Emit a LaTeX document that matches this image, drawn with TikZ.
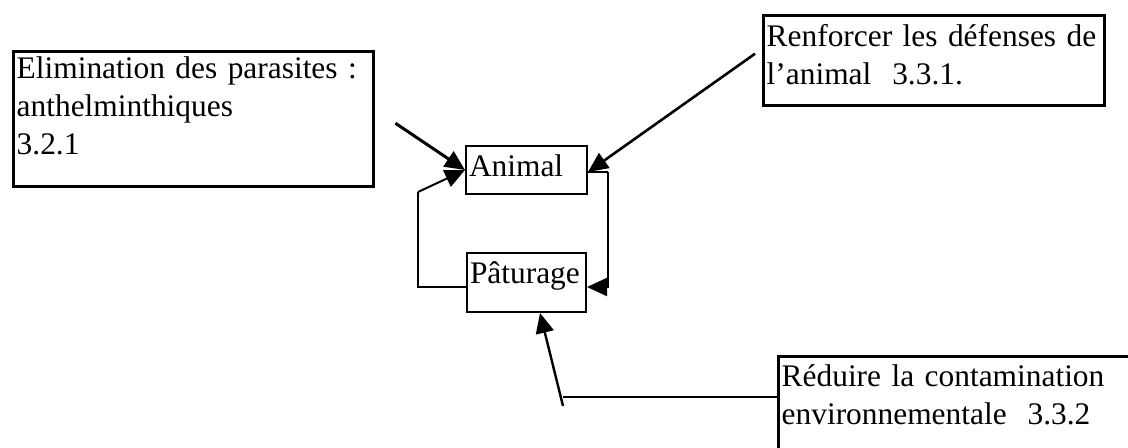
\documentclass[tikz,border=0pt]{standalone}
\usepackage{fontspec}
\setmainfont{Liberation Serif}
\usepackage{tikz}
\usetikzlibrary{arrows.meta, positioning}

\begin{document}
\begin{tikzpicture}[
  x=0.5pt, y=-0.5pt,
  font=\fontsize{15.7}{19}\selectfont,
  bigbox/.style={
    draw=black,
    line width=1.7pt,
    anchor=north west,
    align=left,
    inner xsep=1.5pt,
    inner ysep=2.5pt
  },
  smallbox/.style={
    draw=black,
    line width=1pt,
    anchor=north west,
    align=left,
    inner xsep=1.5pt,
    inner ysep=2.5pt
  },
  arrow/.style={
    draw=black,
    -{Triangle[length=10pt,width=9pt]},
    line width=1.5pt
  },
  loopline/.style={
    draw=black,
    line width=1pt
  }
]
\useasboundingbox (0,0) rectangle (1128,447);

% Outer boxes
\node[bigbox, text width=177pt, text height=11pt, text depth=51.5pt] (elim) at (12,50)
{Elimination des parasites :\\anthelminthiques\\3.2.1};

\node[bigbox, text width=167.5pt, text height=13pt, text depth=27pt] (renf) at (762,14)
{Renforcer les défenses de\\l’animal~ 3.3.1.};

\node[bigbox, text width=178.5pt, text height=12.5pt, text depth=42.5pt] (redu) at (777,355)
{Réduire la contamination\\environnementale~ 3.3.2};

% Centre boxes
\node[smallbox, text width=57.5pt, text height=12.5pt, text depth=6.5pt] (animal) at (465,145)
{Animal};

\node[smallbox, text width=56.5pt, text height=12.5pt, text depth=12pt] (pat) at (466,252)
{Pâturage};

% Cycle
\coordinate (lc) at (418,192);
\draw[loopline] ([yshift=-2.25pt]pat.west) -| (lc);
\draw[arrow, line width=1pt] (lc) -- (animal.west);
\draw[loopline] ([yshift=-1pt]animal.east) -- ++(20,0) coordinate (rc);
\draw[arrow, line width=1pt] (rc) |- ([yshift=-2.25pt]pat.east);

% Actions
\draw[arrow] ([xshift=10pt,yshift=-2pt]elim.east) -- (animal.west);
\draw[arrow, line width=1.3pt] ([xshift=-3.5pt,yshift=3.5pt]renf.west) -- ([yshift=-1pt]animal.east);

\coordinate (bc) at (563,397);
\draw[loopline, line width=1.2pt] (bc -| redu.west) -- (bc);
\draw[arrow, line width=1.2pt] ([yshift=-4.5pt]bc) -- ([xshift=6.75pt]pat.south);

\end{tikzpicture}
\end{document}
